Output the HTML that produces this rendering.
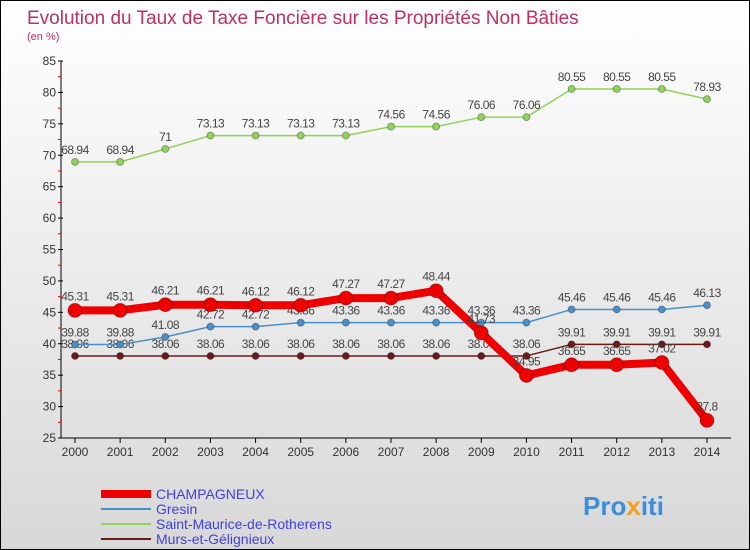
<!DOCTYPE html>
<html><head><meta charset="utf-8"><style>
body{margin:0;}
#wrap{width:748px;height:548px;border:1px solid #000;position:relative;background:linear-gradient(#ffffff,#d8d8d8);font-family:"Liberation Sans",sans-serif;overflow:hidden}
</style></head><body>
<div id="wrap">
<svg id="chart" width="748" height="548">
<text x="26" y="23" font-size="19" fill="#c0305f">Evolution du Taux de Taxe Foncière sur les Propriétés Non Bâties</text>
<text x="26" y="39" font-size="11" fill="#c0305f">(en %)</text>
<g id="axes"></g><g id="series"></g><g id="legend"></g>
<text x="582" y="514" font-size="26" font-weight="bold" fill="#3b8ed8">Pro<tspan fill="#f0a020">x</tspan>iti</text>
</svg></div>
<script>
const years=[2000,2001,2002,2003,2004,2005,2006,2007,2008,2009,2010,2011,2012,2013,2014];
const yTicks=[25,30,35,40,45,50,55,60,65,70,75,80,85];
const champ=[45.31,45.31,46.21,46.21,46.12,46.12,47.27,47.27,48.44,41.73,34.95,36.65,36.65,37.02,27.8];
const gresin=[39.88,39.88,41.08,42.72,42.72,43.36,43.36,43.36,43.36,43.36,43.36,45.46,45.46,45.46,46.13];
const stmaurice=[68.94,68.94,71,73.13,73.13,73.13,73.13,74.56,74.56,76.06,76.06,80.55,80.55,80.55,78.93];
const murs=[38.06,38.06,38.06,38.06,38.06,38.06,38.06,38.06,38.06,38.06,38.06,39.91,39.91,39.91,39.91];
const NS="http://www.w3.org/2000/svg";
const x=i=>74+i*(706-74)/14;
const y=v=>437-(v-25)*(437-60)/60;
function mk(tag,attrs,parent){const e=document.createElementNS(NS,tag);for(const k in attrs)e.setAttribute(k,attrs[k]);parent.appendChild(e);return e;}
const ax=document.getElementById('axes');
let yl=mk('line',{x1:60,y1:60,x2:60,y2:437,stroke:'#000'},ax);


let xl=mk('line',{x1:60,y1:437,x2:730,y2:437,stroke:'#000'},ax);


yTicks.forEach(t=>{
 mk('line',{x1:57,y1:y(t),x2:62,y2:y(t),stroke:'#000'},ax);
 if(t<85)mk('line',{x1:57,y1:y(t+2.5),x2:60,y2:y(t+2.5),stroke:'#e00'},ax);
 const tx=mk('text',{x:55,y:y(t)+4,'font-size':12,'text-anchor':'end',fill:'#333'},ax);
 tx.textContent=t;
 
 
});
years.forEach((yr,i)=>{
 mk('line',{x1:x(i),y1:437,x2:x(i),y2:442,stroke:'#000'},ax);
 const tx=mk('text',{x:x(i),y:455,'font-size':12,'text-anchor':'middle',fill:'#333'},ax);
 tx.textContent=yr;
 
 
});
const sg=document.getElementById('series');
function series(data,color,w,r,name){
 const g=mk('g',{},sg);
 
 
 mk('polyline',{points:data.map((v,i)=>x(i)+','+y(v)).join(' '),fill:'none',stroke:color,'stroke-width':w,'stroke-linejoin':'round'},g);
 data.forEach((v,i)=>{
  const c=mk('circle',{cx:x(i),cy:y(v),r:r,fill:color,stroke:'rgba(0,0,0,0.3)'},g);
  
  
  const t=mk('text',{x:x(i),y:y(v)-8-(r>4?2:0),'font-size':12,'text-anchor':'middle',fill:'#444','letter-spacing':'-0.5'},g);
  t.textContent=v;
  
  
 });
}
series(stmaurice,'#8fd35a',1.5,3.5,'saint-maurice-series');
series(murs,'#6b1a1a',1.5,3.5,'murs-series');
series(gresin,'#4a90c8',1.5,3.5,'gresin-series');
series(champ,'#ee0000',8,7,'champagneux-series');
const lg=document.getElementById('legend');
const items=[['CHAMPAGNEUX','#ee0000',8],['Gresin','#4a90c8',2],['Saint-Maurice-de-Rotherens','#8fd35a',2],['Murs-et-Gélignieux','#6b1a1a',2]];
items.forEach((it,i)=>{
 const yy=493+i*15;
 const l=mk('line',{x1:100,y1:yy,x2:150,y2:yy,stroke:it[1],'stroke-width':it[2]},lg);
 
 
 const t=mk('text',{x:155,y:yy+5,'font-size':14,fill:'#4040e0'},lg);
 t.textContent=it[0];
 
 
});
</script>
</body></html>
